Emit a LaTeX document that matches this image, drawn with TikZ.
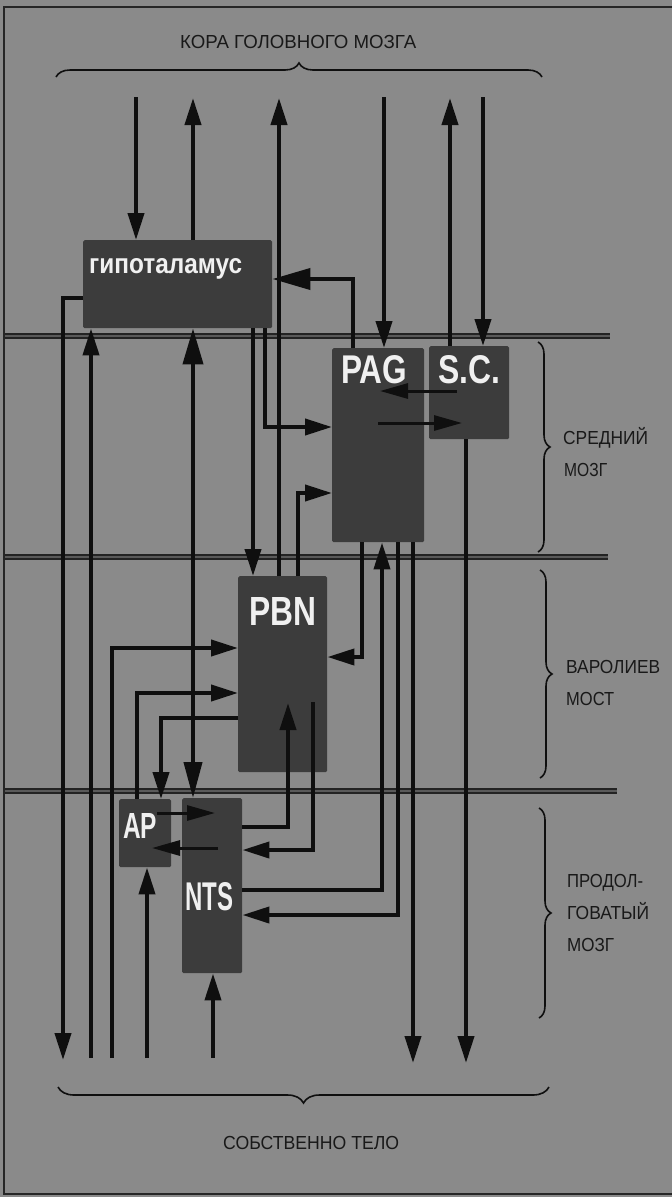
\documentclass[tikz,border=0pt]{standalone}
\usepackage{fontspec}
\setmainfont{Liberation Sans}
\usepackage{graphicx}
\usetikzlibrary{arrows.meta,decorations.pathreplacing,calc}
\definecolor{bgc}{RGB}{138,138,138}
\definecolor{boxc}{RGB}{60,60,60}
\definecolor{linec}{RGB}{15,15,15}
\definecolor{divc}{RGB}{35,35,35}
\definecolor{divl}{RGB}{90,90,90}
\definecolor{labc}{RGB}{240,240,240}
\newcommand{\smallLab}[3]{\resizebox{#1pt}{#2pt}{\fontsize{16}{18}\selectfont\raisebox{0pt}[\fontcharht\font`H][0pt]{#3}}}
\newcommand{\boxLab}[3]{\resizebox{#1pt}{#2pt}{\bfseries #3}}
\begin{document}
\begin{tikzpicture}[x=1pt,y=-1pt,
  box/.style={fill=boxc, draw=none, rounded corners=1.5pt, inner sep=0, anchor=north west},
  conn/.style={draw=linec, line width=4pt},
  arr/.style={conn, -{Triangle[length=27pt,width=16pt]}},
  bigarr/.style={conn, -{Triangle[length=38pt,width=21pt]}},
  thinarr/.style={draw=linec, line width=3pt, -{Triangle[length=28pt,width=15pt]}},
  divider/.style={draw=divc, line width=2pt, double=divl, double distance=1.4pt},
  brc/.style={draw=linec, line width=1.6pt, decorate, decoration={brace, amplitude=#1}},
  txt/.style={inner sep=0, anchor=base west, text=black!90},
  btxt/.style={inner sep=0, anchor=base west, text=labc},
]
% background and frame
\fill[bgc] (0,0) rectangle (672,1197);
\useasboundingbox (0,0) rectangle (672,1197);
\draw[line width=1.5pt, draw=black!85] (680,7) -- (4,7) -- (4,1194) -- (680,1194);

% level dividers
\draw[divider] (5,336) -- (610,336);
\draw[divider] (5,557) -- (608,557);
\draw[divider] (5,791) -- (617,791);

% boxes
\node[box, minimum width=189pt, minimum height=88pt] (hyp) at (83,240) {};
\node[box, minimum width=92pt, minimum height=194pt] (pag) at (332,348) {};
\node[box, minimum width=80pt, minimum height=93pt] (sc) at (429,346) {};
\node[box, minimum width=89pt, minimum height=196pt] (pbn) at (238,576) {};
\node[box, minimum width=52pt, minimum height=68pt] (ap) at (119,799) {};
\node[box, minimum width=60pt, minimum height=175pt] (nts) at (182,798) {};

% coordinates
\coordinate (tA) at (136,97);
\coordinate (tB) at (193,98);
\coordinate (tC) at (279,98);
\coordinate (tD) at (384,97);
\coordinate (tE) at (450,98);
\coordinate (tF) at (483,97);
\coordinate (k1) at (353,279);
\coordinate (k2) at (253,0);
\coordinate (k3) at (265,427);
\coordinate (k4) at (298,493);
\coordinate (k5a) at (457,391);
\coordinate (k5b) at (380,391);
\coordinate (k6a) at (378,423);
\coordinate (k6b) at (462,423);
\coordinate (b1) at (466,1063);
\coordinate (b2) at (413,1063);
\coordinate (k7) at (362,657);
\coordinate (k8) at (382,890);
\coordinate (k9) at (398,915);
\coordinate (k10) at (288,827);
\coordinate (k10t) at (288,703);
\coordinate (k11s) at (313,702);
\coordinate (k11) at (313,850);
\coordinate (b3) at (112,1058);
\coordinate (k12) at (112,648);
\coordinate (k13) at (137,693);
\coordinate (k14) at (161,718);
\coordinate (k15) at (193,0);
\coordinate (k16) at (63,298);
\coordinate (b4) at (63,1060);
\coordinate (b5) at (91,1058);
\coordinate (b6) at (147,1058);
\coordinate (b7) at (213,1058);
\coordinate (k17a) at (157,813);
\coordinate (k17b) at (215,813);
\coordinate (k18a) at (218,848);
\coordinate (k18b) at (152,848);

% cortex connections
\draw[arr] (tA) -- (tA |- hyp.north);
\draw[arr] (tB |- hyp.north) -- (tB);
\draw[arr] (tC |- pbn.north) -- (tC);
\draw[arr] (tD) -- (tD |- pag.north);
\draw[arr] (tE |- sc.north) -- (tE);
\draw[arr] (tF) -- (tF |- sc.north);

% inner connections
\draw[bigarr] (k1 |- pag.north) -- (k1) -- (k1 -| hyp.east);
\draw[arr] (k2 |- hyp.south) -- (k2 |- pbn.north);
\draw[arr] (k3 |- hyp.south) -- (k3) -- (k3 -| pag.west);
\draw[arr] (k4 |- pbn.north) -- (k4) -- (k4 -| pag.west);
\draw[thinarr] (k5a) -- (k5b);
\draw[thinarr] (k6a) -- (k6b);
\draw[arr] (b1 |- sc.south) -- (b1);
\draw[arr] (b2 |- pag.south) -- (b2);
\draw[arr] (k7 |- pag.south) -- (k7) -- (k7 -| pbn.east);
\draw[arr] (k8 -| nts.east) -- (k8) -- (k8 |- pag.south);
\draw[arr] (k9 |- pag.south) -- (k9) -- (k9 -| nts.east);
\draw[arr] (k10 -| nts.east) -- (k10) -- (k10t);
\draw[arr] (k11s) -- (k11) -- (k11 -| nts.east);
\draw[arr] (b3) -- (k12) -- (k12 -| pbn.west);
\draw[arr] (k13 |- ap.north) -- (k13) -- (k13 -| pbn.west);
\draw[arr] (k14 -| pbn.west) -- (k14) -- (k14 |- ap.north);
\draw[conn, {Triangle[length=36pt,width=20pt]}-{Triangle[length=36pt,width=18pt]}] (k15 |- hyp.south) -- (k15 |- nts.north);
\draw[arr] (k16 -| hyp.west) -- (k16) -- (b4);
\draw[arr] (b5) -- (b5 |- hyp.south);
\draw[arr] (b6) -- (b6 |- ap.south);
\draw[arr] (b7) -- (b7 |- nts.south);
\draw[thinarr] (k17a) -- (k17b);
\draw[thinarr] (k18a) -- (k18b);

% braces
\draw[brc=14] (56,77) -- (542,77);
\draw[brc=16] (549,1087) -- (58,1087);
\draw[brc=12] (538,342) -- (538,552);
\draw[brc=12] (540,570) -- (540,778);
\draw[brc=12] (539,808) -- (539,1018);

% box labels
\node[btxt] (lhyp) at (89,273) {\boxLab{153}{15}{гипоталамус}};
\node[btxt] (lpag) at (341,383) {\boxLab{66}{28}{PAG}};
\node[btxt] (lsc) at (438,383) {\boxLab{62}{28}{S.C.}};
\node[btxt] (lpbn) at (249,625) {\boxLab{67}{28}{PBN}};
\node[btxt] (lap) at (123,838) {\boxLab{34}{25}{AP}};
\node[btxt] (lnts) at (185,910) {\boxLab{48}{28}{NTS}};

% region labels
\node[txt] (lcortex) at (180,48) {\smallLab{236}{13}{КОРА ГОЛОВНОГО МОЗГА}};
\node[txt] (lbody) at (223,1149) {\smallLab{176}{13}{СОБСТВЕННО ТЕЛО}};
\node[txt] (lmid1) at (563,444) {\smallLab{85}{13}{СРЕДНИЙ}};
\node[txt] (lmid2) at (564,476) {\smallLab{43}{13}{МОЗГ}};
\node[txt] (lpons1) at (566,673) {\smallLab{94}{13}{ВАРОЛИЕВ}};
\node[txt] (lpons2) at (566,705) {\smallLab{48}{13}{МОСТ}};
\node[txt] (lmed1) at (567,887) {\smallLab{76}{13}{ПРОДОЛ-}};
\node[txt] (lmed2) at (567,919) {\smallLab{82}{13}{ГОВАТЫЙ}};
\node[txt] (lmed3) at (567,951) {\smallLab{47}{13}{МОЗГ}};
\end{tikzpicture}
\end{document}
